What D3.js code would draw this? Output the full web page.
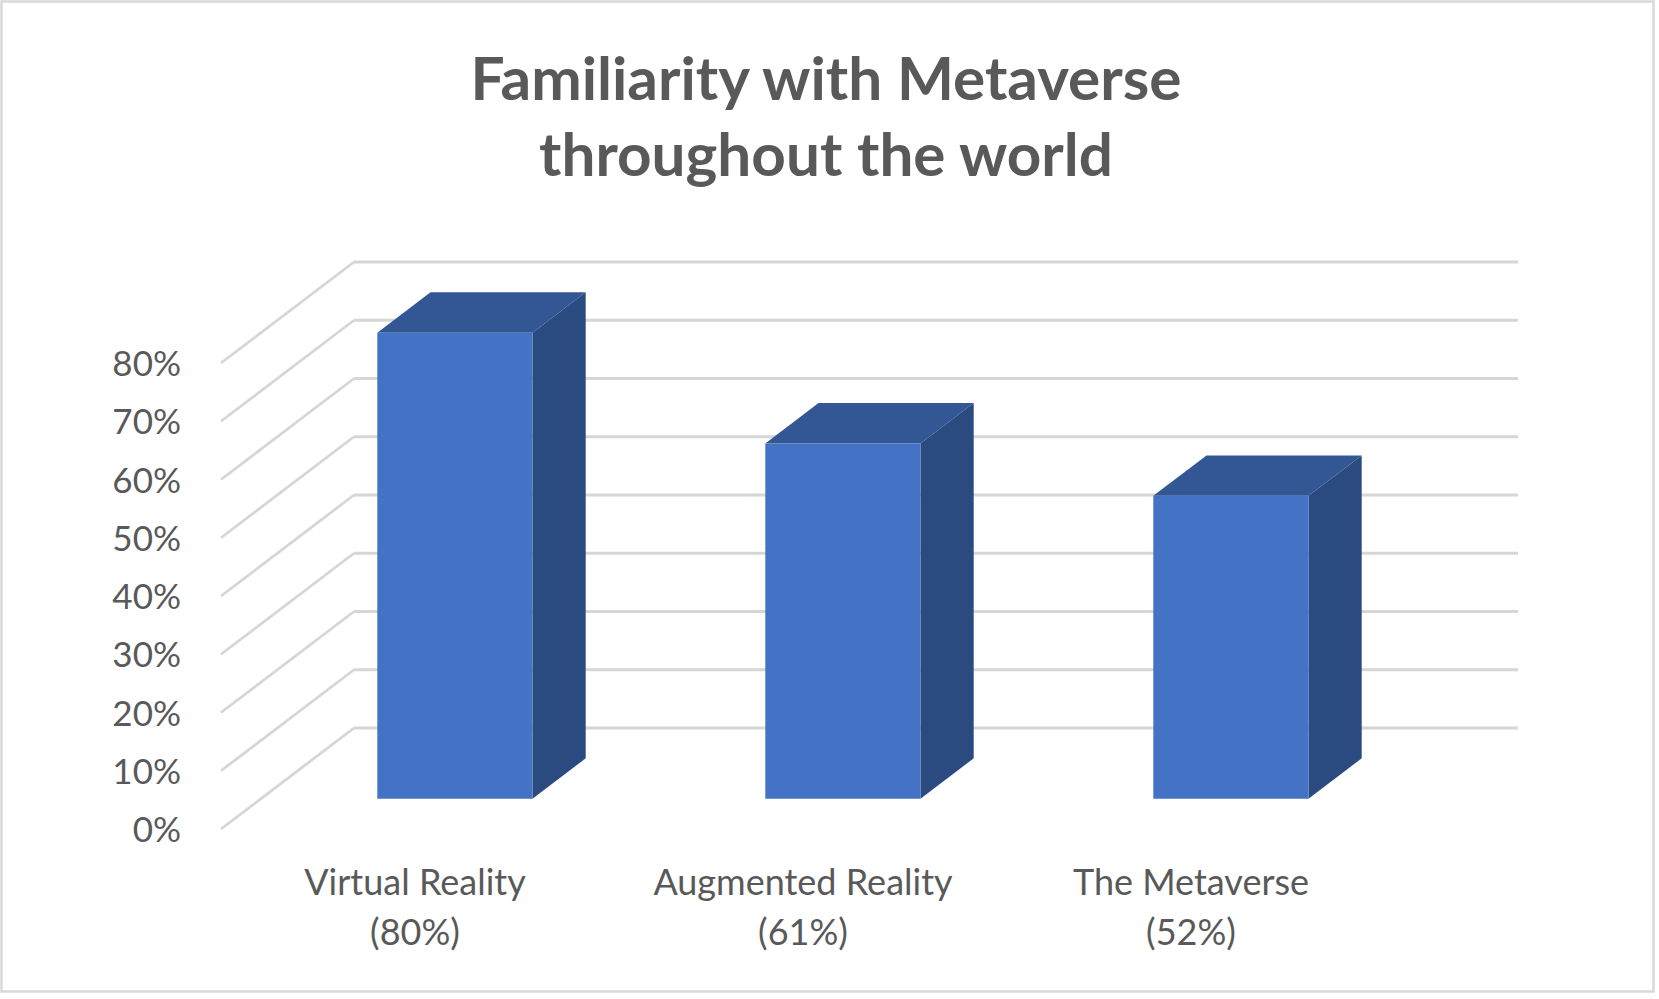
<!DOCTYPE html>
<html>
<head>
<meta charset="utf-8">
<script src="https://cdn.jsdelivr.net/npm/d3@7"></script>
<style>
  body { margin: 0; background: #fff; }
  svg text { font-family: Lato, "Open Sans", sans-serif; fill: #595959; }
</style>
</head>
<body>
<div id="chart"></div>
<script>
var categories = ["Virtual Reality", "Augmented Reality", "The Metaverse"];
var labelLines = [["Virtual Reality", "(80%)"], ["Augmented Reality", "(61%)"], ["The Metaverse", "(52%)"]];
var values = [0.80, 0.61, 0.52];
var ticks = [0, 0.1, 0.2, 0.3, 0.4, 0.5, 0.6, 0.7, 0.8];
var titleLines = ["Familiarity with Metaverse", "throughout the world"];

var width = 1659,
  height = 999;

// back wall plane, depth runs toward the viewer (down-left)
var depthX = -133,
  depthY = 101,
  zBack = 0.3,
  zFront = 0.7;

var svg = d3.select("#chart").append("svg")
  .attr("width", width)
  .attr("height", height);

svg.append("rect")
  .attr("x", 1.5).attr("y", 1.5)
  .attr("width", 1652).attr("height", 990)
  .attr("fill", "#fff")
  .attr("stroke", "#d9d9d9")
  .attr("stroke-width", 2.5);

var x = d3.scaleBand().domain(categories).range([354, 1518]).padding(0);
var y = d3.scaleLinear().domain([0, 0.8]).range([728, 262]);

function proj(u, v, z) {
  return [u + z * depthX, y(v) + z * depthY];
}

// title
svg.selectAll(".title")
  .data(titleLines)
  .enter().append("text")
  .attr("class", "title")
  .attr("x", 826)
  .attr("y", (d, i) => 100 + i * 76)
  .attr("text-anchor", "middle")
  .attr("font-weight", 700)
  .attr("font-size", 60)
  .attr("textLength", (d, i) => i == 0 ? 711 : 574)
  .attr("lengthAdjust", "spacingAndGlyphs")
  .text(d => d);

// gridlines: back wall plus the diagonal on the side wall
var grid = svg.append("g").attr("fill", "none").attr("stroke", "#d6d6d6").attr("stroke-width", 2.8);
grid.selectAll(".h")
  .data(ticks)
  .enter().append("line")
  .attr("x1", 354).attr("x2", 1518)
  .attr("y1", d => y(d)).attr("y2", d => y(d));
grid.selectAll(".d")
  .data(ticks)
  .enter().append("line")
  .attr("x1", 354).attr("y1", d => y(d))
  .attr("x2", 354 + depthX).attr("y2", d => y(d) + depthY);

// value axis sits at the front edge of the side wall
var yFront = y.copy().range(y.range().map(r => r + depthY));
var axis = svg.append("g")
  .attr("transform", "translate(" + (354 + depthX) + ",0)")
  .call(d3.axisLeft(yFront).tickValues(ticks).tickFormat(d3.format(".0%")).tickSize(0).tickPadding(40));
axis.select(".domain").remove();
axis.selectAll("text")
  .attr("font-size", 35)
  .attr("font-family", "Lato, 'Open Sans', sans-serif")
  .attr("fill", "#595959")
  .attr("dy", "0.36em");

// bars
var barW = x.bandwidth() * 0.4;
var bars = svg.selectAll(".bar")
  .data(categories.map((c, i) => ({ cat: c, v: values[i] })))
  .enter().append("g");

function poly(pts) {
  return "M" + pts.map(p => p.join(",")).join("L") + "Z";
}

bars.each(function(d) {
  var g = d3.select(this);
  var c = x(d.cat) + x.bandwidth() / 2;
  var u0 = c - barW / 2, u1 = c + barW / 2;
  // side face
  g.append("path")
    .attr("d", poly([proj(u1, 0, zFront), proj(u1, 0, zBack), proj(u1, d.v, zBack), proj(u1, d.v, zFront)]))
    .attr("fill", "#2a4a80");
  // top face
  g.append("path")
    .attr("d", poly([proj(u0, d.v, zFront), proj(u0, d.v, zBack), proj(u1, d.v, zBack), proj(u1, d.v, zFront)]))
    .attr("fill", "#335694");
  // front face
  g.append("path")
    .attr("d", poly([proj(u0, 0, zFront), proj(u0, d.v, zFront), proj(u1, d.v, zFront), proj(u1, 0, zFront)]))
    .attr("fill", "#4472c4");
});

// category labels on the front edge of the floor
svg.selectAll(".cat")
  .data(categories)
  .enter().append("text")
  .attr("class", "cat")
  .attr("text-anchor", "middle")
  .attr("font-size", 36)
  .each(function(d, i) {
    var t = d3.select(this);
    var cx = x(d) + x.bandwidth() / 2 + depthX;
    labelLines[i].forEach(function(line, j) {
      t.append("tspan").attr("x", cx).attr("y", 895 + j * 50).text(line);
    });
  });
</script>
</body>
</html>
